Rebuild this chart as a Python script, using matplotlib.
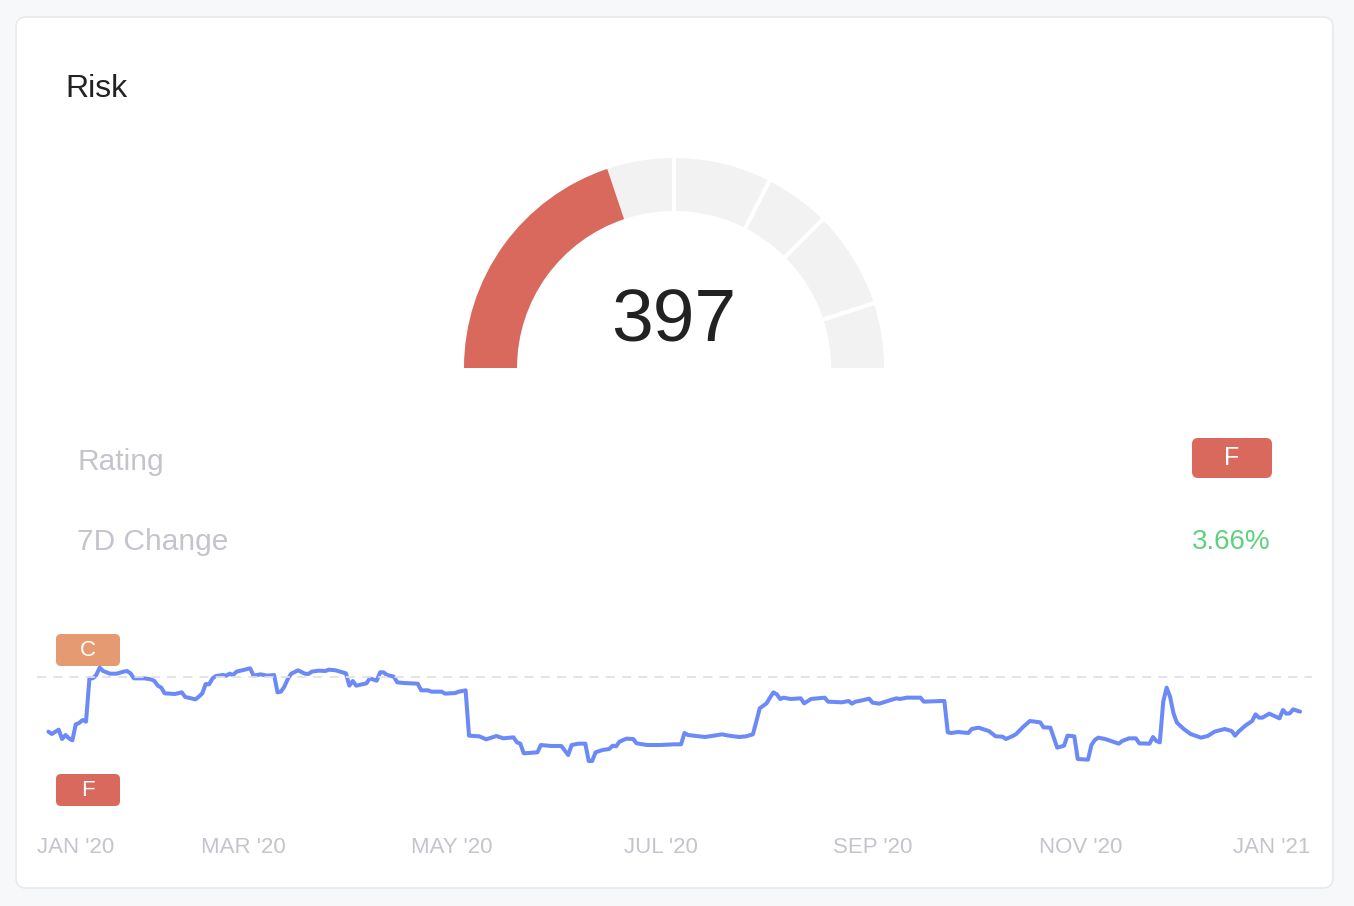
import numpy as np
import matplotlib
matplotlib.use("Agg")
import matplotlib.pyplot as plt
import matplotlib.transforms as mtransforms
from matplotlib.patches import Wedge, FancyBboxPatch

plt.rcParams['font.family'] = ['Liberation Sans', 'DejaVu Sans']

# ---------------- data ----------------
title = "Risk"
score = 397
score_max = 1000
band_edges = [0, 500, 650, 750, 900, 1000]
rating = "F"
change_7d = "3.66%"
row_labels = ["Rating", "7D Change"]

# day offsets from 2020-01-01 and score values of the history line
days = [3, 4, 6, 7, 8, 9, 10, 11, 12, 13, 14, 15, 16, 17, 18, 19, 21, 23, 25, 26,
        27, 28, 31, 33, 34, 35, 36, 37, 40, 42, 43, 46, 47, 48, 49, 50, 51, 52, 54, 55,
        56, 57, 58, 60, 62, 63, 65, 67, 69, 70, 71, 72, 73, 74, 76, 78, 79, 80, 82, 84,
        85, 87, 88, 90, 91, 92, 93, 96, 97, 99, 100, 101, 102, 104, 105, 107, 111, 112, 114, 115,
        118, 119, 122, 123, 125, 126, 129, 131, 134, 136, 139, 140, 141, 142, 146, 147, 150, 153, 155, 156,
        158, 160, 161, 162, 163, 165, 167, 168, 169, 170, 172, 174, 175, 178, 182, 186, 188, 189, 190, 195,
        200, 202, 205, 207, 209, 210, 211, 213, 214, 215, 216, 217, 218, 220, 223, 224, 226, 230, 231, 235,
        237, 238, 239, 241, 243, 244, 246, 249, 251, 252, 254, 258, 259, 264, 265, 266, 267, 269, 272, 273,
        275, 278, 280, 282, 283, 285, 286, 288, 290, 293, 294, 296, 298, 300, 301, 303, 304, 307, 308, 309,
        310, 312, 316, 317, 319, 321, 322, 325, 326, 327, 328, 329, 330, 331, 332, 333, 335, 337, 340, 342,
        344, 347, 349, 350, 351, 353, 355, 356, 357, 358, 360, 363, 364, 365, 366, 367, 369]
values = [337, 330, 343, 315, 327, 317, 311, 359, 363, 372, 367, 497, 497, 507, 529, 519, 511, 511, 517, 519,
          512, 497, 497, 494, 489, 475, 469, 452, 450, 455, 441, 434, 442, 452, 480, 479, 497, 504, 507, 505,
          511, 507, 517, 522, 527, 505, 509, 505, 507, 455, 457, 472, 495, 511, 521, 511, 510, 517, 520, 519,
          523, 521, 518, 512, 475, 489, 475, 482, 497, 490, 515, 515, 507, 502, 485, 483, 481, 461, 461, 457,
          457, 451, 453, 457, 461, 325, 323, 314, 324, 317, 320, 305, 301, 272, 275, 297, 294, 294, 267, 297,
          301, 301, 249, 249, 275, 282, 285, 295, 293, 307, 316, 315, 302, 297, 297, 299, 299, 333, 327, 321,
          329, 325, 321, 323, 329, 367, 407, 422, 439, 455, 449, 435, 439, 435, 437, 422, 435, 439, 427, 425,
          429, 421, 427, 431, 436, 424, 421, 431, 437, 435, 439, 439, 427, 429, 429, 335, 333, 336, 333, 345,
          349, 339, 323, 322, 315, 324, 330, 351, 369, 365, 350, 349, 289, 295, 325, 323, 255, 253, 297, 312,
          319, 315, 301, 309, 317, 317, 302, 301, 321, 309, 305, 427, 469, 442, 392, 364, 345, 330, 319, 324,
          337, 345, 339, 325, 337, 355, 369, 389, 379, 379, 391, 377, 402, 391, 392, 404, 397]

ref_level = 500
ref_label_top = "C"
ref_label_bottom = "F"
tick_days = [0, 60, 121, 182, 244, 305, 366]
tick_labels = ["JAN '20", "MAR '20", "MAY '20", "JUL '20", "SEP '20", "NOV '20", "JAN '21"]

# ---------------- style ----------------
W, H = 1354, 906
BG = "#f7f8fa"
RED = "#d9695c"
ORANGE = "#e59a71"
GRAY_BAND = "#f2f2f2"
LINE = "#6b8af7"
LABEL = "#c4c4cc"
GREEN = "#5dd17f"

fig = plt.figure(figsize=(W / 100, H / 100), dpi=100)
fig.patch.set_facecolor(BG)

base = fig.add_axes([0, 0, 1, 1])
base.set_xlim(0, W)
base.set_ylim(0, H)
base.axis("off")

def Y(p):
    return H - p

# card
card = FancyBboxPatch((16, Y(888)), 1317, 871, boxstyle="round,pad=0,rounding_size=10",
                      facecolor="white", edgecolor="#e9e9ee", linewidth=1.2)
base.add_patch(card)

# title
base.text(65, Y(97), title, fontsize=23, color="#222222", ha="left", va="baseline")

# gauge
cx, cy = 674, Y(368)
r_out, width = 210, 53

def ang(s):
    return 180 - s / score_max * 180

for a, b in zip(band_edges[:-1], band_edges[1:]):
    base.add_patch(Wedge((cx, cy), r_out, ang(b), ang(a), width=width,
                         facecolor=GRAY_BAND, edgecolor="none"))
base.add_patch(Wedge((cx, cy), r_out, ang(score), ang(0), width=width,
                     facecolor=RED, edgecolor="none"))
for e in band_edges[1:-1]:
    t = np.deg2rad(ang(e))
    base.plot([cx + (r_out - width - 2) * np.cos(t), cx + (r_out + 2) * np.cos(t)],
              [cy + (r_out - width - 2) * np.sin(t), cy + (r_out + 2) * np.sin(t)],
              color="white", linewidth=3, solid_capstyle="butt")

base.text(cx, Y(341), str(score), fontsize=54, color="#222222", ha="center", va="baseline")

# rows
base.text(77, Y(470), row_labels[0], fontsize=21.5, color=LABEL, ha="left", va="baseline")
base.text(77, Y(550), row_labels[1], fontsize=21.5, color=LABEL, ha="left", va="baseline")
base.add_patch(FancyBboxPatch((1192, Y(478)), 80, 40, boxstyle="round,pad=0,rounding_size=6",
                              facecolor=RED, edgecolor="none"))
base.text(1232, Y(458), rating, fontsize=18, color="white", ha="center", va="center")
base.text(1271, Y(549), change_7d, fontsize=20, color=GREEN, ha="right", va="baseline")

# history line chart
ax_l, ax_r, ax_t, ax_b = 37, 1312, 620, 810
ax = fig.add_axes([ax_l / W, (H - ax_b) / H, (ax_r - ax_l) / W, (ax_b - ax_t) / H])
ax.set_facecolor("none")
dates = np.datetime64("2020-01-01") + np.array(days).astype("timedelta64[D]")
ax.plot(dates, values, color=LINE, linewidth=2.9, solid_joinstyle="round", solid_capstyle="round")
ax.axhline(ref_level, color="#e1e1e6", linewidth=1.3, linestyle=(0, (5, 4)))
x0 = np.datetime64("2020-01-01") - np.timedelta64(8, "h")
x1 = np.datetime64("2020-01-01") + np.timedelta64(8940, "h")
ax.set_xlim(x0, x1)
ax.set_ylim(102, 672)
ax.axis("off")

# rating badges on the left of the line chart
for lab, col, ytop in [(ref_label_top, ORANGE, 634), (ref_label_bottom, RED, 774)]:
    base.add_patch(FancyBboxPatch((56, Y(ytop + 32)), 64, 32, boxstyle="round,pad=0,rounding_size=5",
                                  facecolor=col, edgecolor="none"))
    base.text(88, Y(ytop + 16), lab, fontsize=16, color="white", ha="center", va="center")

# x tick labels
trans = mtransforms.blended_transform_factory(ax.transData, base.transData)
trans_ax = mtransforms.blended_transform_factory(ax.transAxes, base.transData)
for i, (d, lab) in enumerate(zip(tick_days, tick_labels)):
    if i == 0:
        base.text(0.0, Y(853), lab, transform=trans_ax, fontsize=16, color=LABEL, ha="left", va="baseline")
    elif i == len(tick_days) - 1:
        base.text(0.9985, Y(853), lab, transform=trans_ax, fontsize=16, color=LABEL, ha="right", va="baseline")
    else:
        dd = np.datetime64("2020-01-01") + np.timedelta64(d, "D")
        base.text(matplotlib.dates.date2num(dd), Y(853), lab, transform=trans, fontsize=16,
                  color=LABEL, ha="center", va="baseline")

fig.savefig("out.png", dpi=100, facecolor=BG)
